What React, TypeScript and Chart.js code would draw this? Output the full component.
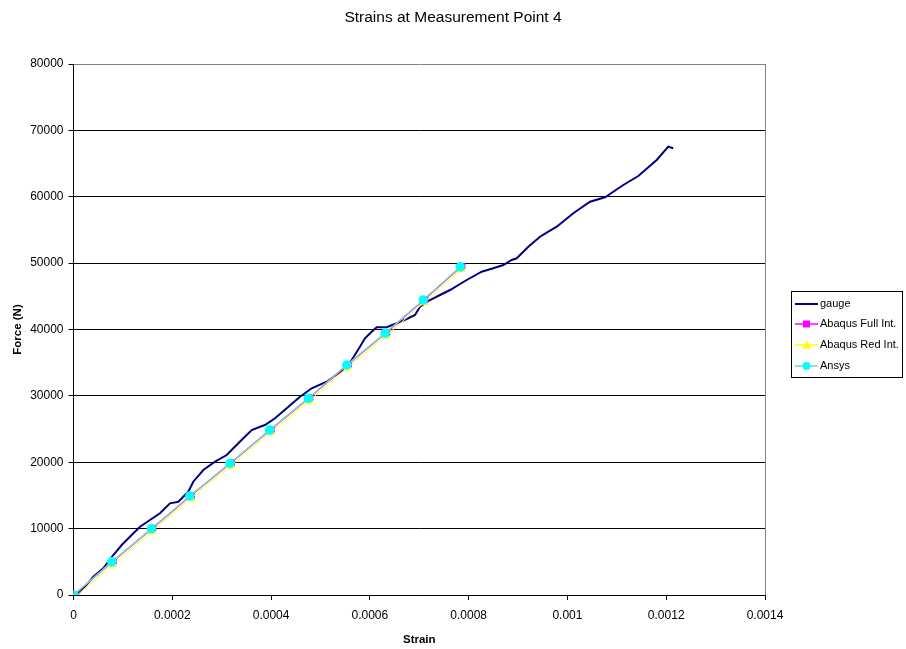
import React, { useEffect, useRef } from 'react';
import { Chart, registerables } from 'chart.js';

Chart.register(...registerables);

const FONT = "'Liberation Sans', Arial, sans-serif";

const chartTitle = 'Strains at Measurement Point 4';
const xAxisTitle = 'Strain';
const yAxisTitle = 'Force (N)';
const seriesNames = ['gauge', 'Abaqus Full Int.', 'Abaqus Red Int.', 'Ansys'];

const xTickMin = 0;
const xTickMax = 0.0014;
const xTickStep = 0.0002;
const yTickMin = 0;
const yTickMax = 80000;
const yTickStep = 10000;

const gaugeStrain = [
  0.000007, 0.0000233, 0.0000401, 0.0000603, 0.0000806, 0.0000976, 0.0001178, 0.0001346, 0.0001549, 0.0001751,
  0.0001953, 0.0002122, 0.0002324, 0.0002425, 0.0002628, 0.0002865, 0.0003102, 0.0003235, 0.0003438, 0.0003608,
  0.0003776, 0.0003877, 0.000408, 0.0004316, 0.0004586, 0.0004823, 0.0005126, 0.0005361, 0.0005531, 0.0005632,
  0.00058, 0.0005901, 0.0006037, 0.0006138, 0.0006341, 0.0006543, 0.0006746, 0.0006914, 0.0007015, 0.0007218,
  0.0007421, 0.0007623, 0.0007961, 0.0008264, 0.0008499, 0.0008702, 0.0008872, 0.0008973, 0.0009208, 0.0009445,
  0.000958, 0.0009783, 0.0010119, 0.0010457, 0.0010761, 0.0011131, 0.0011435, 0.0011807, 0.0012042, 0.0012143,
];
const gaugeForce = [
  0, 1250, 2757, 4023, 6026, 7533, 9040, 10290, 11299, 12309,
  13815, 14056, 15563, 17070, 18832, 20083, 21092, 22102, 23608, 24859,
  25356, 25612, 26621, 28128, 29876, 31141, 32136, 33401, 34395, 35405,
  37409, 38674, 39668, 40331, 40331, 40934, 41582, 42185, 43435, 44444,
  45198, 45951, 47458, 48708, 49220, 49718, 50471, 50727, 52474, 53981,
  54584, 55488, 57507, 59254, 59917, 61770, 63126, 65537, 67540, 67299,
];

const ansysStrain = [0, 0.0000775, 0.0001575, 0.0002355, 0.0003165, 0.000397, 0.0004755, 0.000553, 0.000631, 0.000708, 0.000783];
const ansysForce = [0, 5000, 9980, 14920, 19850, 24850, 29650, 34650, 39450, 44450, 49450];
const fullStrain = [0.000003, 0.0000812, 0.0001612, 0.0002392, 0.0003202, 0.0004008, 0.0004792, 0.0005568, 0.0006348, 0.0007118, 0.0007868];
const fullForce = [100, 5100, 10080, 15020, 19950, 24950, 29750, 34750, 39550, 44550, 49550];
const redStrain = [0.000002, 0.0000795, 0.000159, 0.0002375, 0.0003185, 0.000399, 0.0004775, 0.000555, 0.000633, 0.00071, 0.000785];
const redForce = [-350, 4620, 9600, 14540, 19470, 24470, 29270, 34270, 39070, 44070, 49070];

const toPoints = (xs: number[], ys: number[]) => xs.map((x, i) => ({ x, y: ys[i] }));

const customPlugin = {
  id: 'customDecor',
  afterDraw(chart: any) {
    const ctx = chart.ctx as CanvasRenderingContext2D;
    ctx.save();
    // Title
    ctx.fillStyle = '#000';
    ctx.font = `15.5px ${FONT}`;
    ctx.textAlign = 'center';
    ctx.textBaseline = 'middle';
    ctx.fillText(chartTitle, chart.width / 2, 18);

    // Legend
    const bx = 791.5, by = 291.5, bw = 111, bh = 86;
    ctx.fillStyle = '#fff';
    ctx.fillRect(bx, by, bw, bh);
    ctx.strokeStyle = '#000';
    ctx.lineWidth = 1;
    ctx.strokeRect(bx, by, bw, bh);
    const rows = [304, 324, 345, 366];
    chart.data.datasets.forEach((ds: any, i: number) => {
      const y = rows[i];
      ctx.strokeStyle = ds.borderColor;
      ctx.lineWidth = i === 0 ? 2 : 1.5;
      ctx.beginPath();
      ctx.moveTo(795, y);
      ctx.lineTo(818, y);
      ctx.stroke();
      const cx = 806.5;
      ctx.fillStyle = ds.pointBackgroundColor;
      if (ds.pointStyle === 'rect') {
        ctx.fillRect(cx - 3.5, y - 3.5, 7, 7);
      } else if (ds.pointStyle === 'triangle') {
        ctx.beginPath();
        ctx.moveTo(cx, y - 4.5);
        ctx.lineTo(cx + 4.5, y + 3.5);
        ctx.lineTo(cx - 4.5, y + 3.5);
        ctx.closePath();
        ctx.fill();
      } else if (ds.pointStyle === 'circle' && i > 0) {
        ctx.beginPath();
        ctx.arc(cx, y, 4, 0, Math.PI * 2);
        ctx.fill();
      }
      ctx.fillStyle = '#000';
      ctx.font = `11px ${FONT}`;
      ctx.textAlign = 'left';
      ctx.textBaseline = 'middle';
      ctx.fillText(ds.label, 820, y);
    });
    ctx.restore();
  },
};

export default function App() {
  const canvasRef = useRef<HTMLCanvasElement | null>(null);

  useEffect(() => {
    if (!canvasRef.current) return;
    Chart.defaults.font.family = FONT;
    const chart = new Chart(canvasRef.current, {
      type: 'scatter',
      data: {
        datasets: [
          {
            label: seriesNames[0],
            data: toPoints(gaugeStrain, gaugeForce),
            showLine: true,
            borderColor: '#000080',
            backgroundColor: '#000080',
            pointBackgroundColor: '#000080',
            borderWidth: 2,
            pointRadius: 0,
            pointStyle: 'circle',
            tension: 0,
            order: 4,
          },
          {
            label: seriesNames[1],
            data: toPoints(fullStrain, fullForce),
            showLine: true,
            borderColor: '#ff00ff',
            backgroundColor: '#ff00ff',
            pointBackgroundColor: '#ff00ff',
            pointBorderColor: '#ff00ff',
            borderWidth: 1,
            pointRadius: 4,
            pointStyle: 'rect',
            order: 3,
          },
          {
            label: seriesNames[2],
            data: toPoints(redStrain, redForce),
            showLine: true,
            borderColor: '#ffff00',
            backgroundColor: '#ffff00',
            pointBackgroundColor: '#ffff00',
            pointBorderColor: '#ffff00',
            borderWidth: 1,
            pointRadius: 4.5,
            pointStyle: 'triangle',
            order: 2,
          },
          {
            label: seriesNames[3],
            data: toPoints(ansysStrain, ansysForce),
            showLine: true,
            borderColor: '#7fcccc',
            backgroundColor: '#00ffff',
            pointBackgroundColor: '#00ffff',
            pointBorderColor: '#00ffff',
            borderWidth: 1.5,
            pointRadius: 4,
            pointStyle: 'circle',
            order: 1,
          },
        ],
      },
      options: {
        animation: false,
        responsive: false,
        layout: { padding: { left: 0, right: 141, top: 64, bottom: 0 } },
        plugins: {
          legend: { display: false },
          title: { display: false },
          tooltip: { enabled: false },
        },
        scales: {
          x: {
            type: 'linear',
            min: xTickMin,
            max: xTickMax,
            ticks: {
              stepSize: xTickStep,
              color: '#000',
              font: { size: 12, family: FONT },
              padding: 8,
              maxRotation: 0,
              callback: (v: any) => String(Number(Number(v).toFixed(5))),
            },
            grid: {
              color: (c: any) => (c.tick && Math.abs(c.tick.value - xTickMax) < 1e-9 ? '#808080' : 'rgba(0,0,0,0)'),
              tickColor: '#000',
              tickLength: 5,
              lineWidth: 1,
            },
            border: { color: '#000', width: 1 },
            title: {
              display: true,
              text: xAxisTitle,
              color: '#000',
              font: { size: 11.5, weight: 'bold', family: FONT },
              padding: { top: 0, bottom: 2 },
            },
            afterFit: (s: any) => {
              s.height = 54;
            },
          },
          y: {
            type: 'linear',
            min: yTickMin,
            max: yTickMax,
            ticks: {
              stepSize: yTickStep,
              color: '#000',
              font: { size: 12, family: FONT },
              padding: 5,
              callback: (v: any) => String(v),
            },
            grid: {
              color: (c: any) => (c.tick && c.tick.value === yTickMax ? '#808080' : '#000'),
              tickColor: '#000',
              tickLength: 5,
              lineWidth: 1,
            },
            border: { color: '#000', width: 1 },
            title: {
              display: true,
              text: yAxisTitle,
              color: '#000',
              font: { size: 11.5, weight: 'bold', family: FONT },
              padding: { top: 11, bottom: 0 },
            },
            afterFit: (s: any) => {
              s.width = 73.5;
            },
          },
        },
      },
      plugins: [customPlugin],
    } as any);
    return () => chart.destroy();
  }, []);

  return (
    <div style={{ position: 'fixed', left: 0, top: 0, width: 906, height: 649, background: '#fff' }}>
      <canvas ref={canvasRef} width={906} height={649} style={{ display: 'block' }} />
    </div>
  );
}
